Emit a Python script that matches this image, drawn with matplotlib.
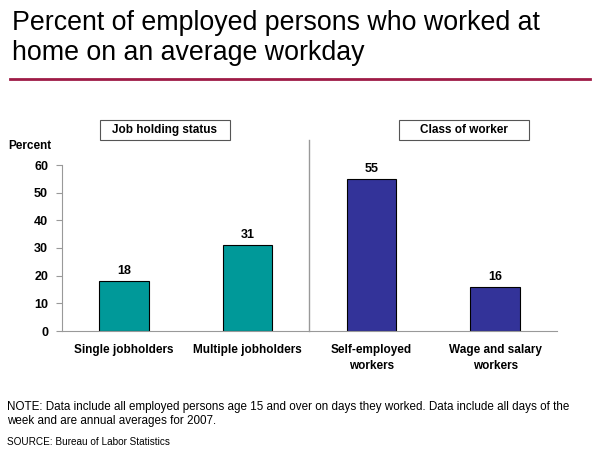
import matplotlib
matplotlib.use('Agg')
import matplotlib.pyplot as plt
from matplotlib.patches import Rectangle

plt.rcParams['font.family'] = ['Liberation Sans', 'DejaVu Sans']

# data
categories = ['Single jobholders', 'Multiple jobholders', 'Self-employed\nworkers', 'Wage and salary\nworkers']
values = [18, 31, 55, 16]
bar_colors = ['#009999', '#009999', '#333399', '#333399']
group_labels = ['Job holding status', 'Class of worker']
yticks = [0, 10, 20, 30, 40, 50, 60]

fig = plt.figure(figsize=(6, 4.5), dpi=100)

# title and rule
fig.text(0.02, 0.978, 'Percent of employed persons who worked at\nhome on an average workday',
         fontsize=19.3, va='top', ha='left', linespacing=1.2)
fig.add_artist(plt.Line2D([0.017, 0.983], [0.824, 0.824], color='#9E1B46', lw=2))

# axes: x 62..557 px, y 165..331 px
ax = fig.add_axes([62 / 600, 1 - 331 / 450, 495 / 600, 166 / 450])
x = list(range(len(categories)))
ax.bar(x, values, width=0.4, color=bar_colors, edgecolor='black', linewidth=0.8)
for xi, v in zip(x, values):
    ax.text(xi, v + 1.5, str(v), ha='center', va='bottom', fontsize=9, fontweight='bold')

ax.set_xlim(-0.5, 3.5)
ax.set_ylim(0, 60)
ax.set_yticks(yticks)
ax.set_yticklabels([str(t) for t in yticks], fontsize=9, fontweight='bold')
ax.set_xticks(x)
ax.set_xticklabels(categories, fontsize=8.5, fontweight='bold', linespacing=1.45)
ax.tick_params(axis='x', length=0, pad=9)
ax.tick_params(axis='y', length=4, color='#999999', pad=6)
for s in ['top', 'right']:
    ax.spines[s].set_visible(False)
ax.spines['left'].set_color('#999999')
ax.spines['bottom'].set_color('#999999')

# divider between groups
ax.plot([1.5, 1.5], [0, 69], color='#999999', lw=1, clip_on=False)

# group boxes (130 x 20 px)
bw = 130 / 124
for gx, lab in zip([0.33, 2.75], group_labels):
    ax.add_patch(Rectangle((gx - bw / 2, 69.0), bw, 7.3, fc='white', ec='#555555',
                           lw=0.8, clip_on=False))
    ax.text(gx, 72.6, lab, ha='center', va='center', fontsize=8.5, fontweight='bold',
            clip_on=False)

fig.text(8 / 600, 1 - 146 / 450, 'Percent', fontsize=8.5, fontweight='bold', va='center')

fig.text(7 / 600, 1 - 414 / 450,
         'NOTE: Data include all employed persons age 15 and over on days they worked. Data include all days of the\n'
         'week and are annual averages for 2007.',
         fontsize=8.4, va='center', ha='left', linespacing=1.3)
fig.text(7 / 600, 1 - 442 / 450, 'SOURCE: Bureau of Labor Statistics', fontsize=7.2, va='center', ha='left')

fig.savefig('out.png', dpi=100)
